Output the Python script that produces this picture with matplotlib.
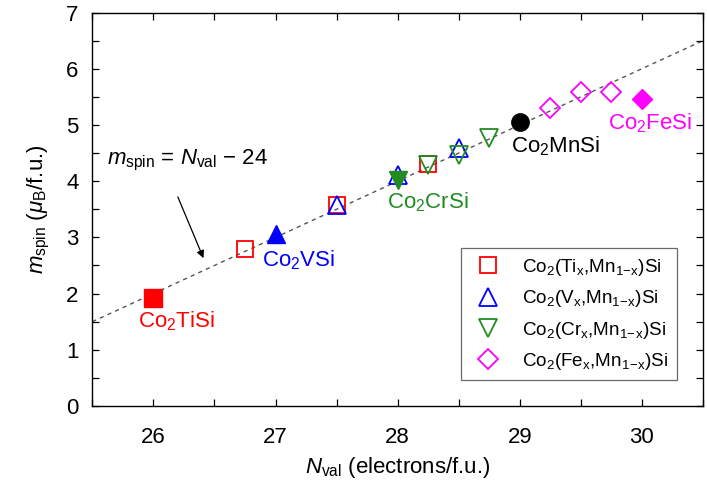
import numpy as np
import matplotlib
matplotlib.use("Agg")
from matplotlib import pyplot as plt

plt.rcParams['font.family'] = ['Liberation Sans', 'DejaVu Sans']
plt.rcParams['mathtext.fontset'] = 'custom'
plt.rcParams['mathtext.rm'] = 'Liberation Sans'
plt.rcParams['mathtext.it'] = 'Liberation Sans:italic'
plt.rcParams['mathtext.default'] = 'regular'

# parent compounds (filled markers)
parent_names = ['Co$_2$TiSi', 'Co$_2$VSi', 'Co$_2$CrSi', 'Co$_2$MnSi', 'Co$_2$FeSi']
parent_nval = [26.0, 27.0, 28.0, 29.0, 30.0]
parent_m = [1.92, 3.06, 4.02, 5.06, 5.46]
parent_colors = ['#ff0000', '#0000ff', '#228b22', '#000000', '#ff00ff']
parent_markers = ['s', '^', 'v', 'o', 'D']
label_x = [26.19, 27.19, 28.25, 29.29, 30.07]
label_y = [1.5, 2.6, 3.63, 4.62, 5.03]

# substituted series (open markers)
ti_nval = [26.75, 27.5, 28.25]
ti_m = [2.79, 3.58, 4.3]
v_nval = [27.5, 28.0, 28.5]
v_m = [3.58, 4.11, 4.59]
cr_nval = [28.25, 28.5, 28.75]
cr_m = [4.28, 4.47, 4.76]
fe_nval = [29.25, 29.5, 29.75]
fe_m = [5.31, 5.59, 5.59]

series = [
    (ti_nval, ti_m, 's', '#ff0000', 12, r'Co$_2$(Ti$_x$,Mn$_{1\!-\!x}$)Si'),
    (v_nval, v_m, '^', '#0000ff', 13, r'Co$_2$(V$_x$,Mn$_{1\!-\!x}$)Si'),
    (cr_nval, cr_m, 'v', '#228b22', 13, r'Co$_2$(Cr$_x$,Mn$_{1\!-\!x}$)Si'),
    (fe_nval, fe_m, 'D', '#ff00ff', 10, r'Co$_2$(Fe$_x$,Mn$_{1\!-\!x}$)Si'),
]

fig = plt.figure(figsize=(7.07, 4.83), dpi=100)
ax = fig.add_axes([0.1306, 0.1594, 0.8637, 0.8147])

# Slater-Pauling line
n_line = np.array([25.5, 30.5])
ax.plot(n_line, n_line - 24, ls=(0, (3, 3)), color='#555555', lw=1.0, zorder=1)

for x, y, mk, col, ms, lab in series:
    ax.plot(x, y, ls='none', marker=mk, ms=ms, mfc='none', mec=col, mew=1.3,
            label=lab, zorder=3)

for n, m, col, mk in zip(parent_nval, parent_m, parent_colors, parent_markers):
    ms = 10 if mk == 'D' else 12.5
    ax.plot(n, m, ls='none', marker=mk, ms=ms, color=col, zorder=4)

for name, tx, ty, col in zip(parent_names, label_x, label_y, parent_colors):
    ax.text(tx, ty, name, color=col, fontsize=16, ha='center', va='center')

ax.text(25.62, 4.36, r'$\it{m}_{\rm spin}$ = $\it{N}_{\rm val}$ $-$ 24',
        fontsize=16, va='center', ha='left')
ax.annotate('', xy=(26.41, 2.63), xytext=(26.2, 3.72),
            arrowprops=dict(arrowstyle='-|>', color='black', lw=0.9,
                            shrinkA=0, shrinkB=0, mutation_scale=11))

ax.set_xlim(25.5, 30.5)
ax.set_ylim(0, 7)
ax.set_xticks([26, 27, 28, 29, 30])
ax.set_xticks(np.arange(25.5, 30.6, 0.5), minor=True)
ax.set_yticks(range(0, 8))
ax.set_yticks(np.arange(0, 7.1, 0.5), minor=True)
ax.tick_params(which='both', direction='in', top=True, right=True, length=5,
               width=0.9, labelsize=16)
ax.tick_params(axis='x', pad=15)
ax.tick_params(axis='y', pad=10)
for sp in ax.spines.values():
    sp.set_linewidth(1.0)

ax.set_xlabel(r'$\it{N}_{\rm val}$ (electrons/f.u.)', fontsize=16, labelpad=5)
ax.set_ylabel(r'$\it{m}_{\rm spin}$ ($\it{\mu}_{\rm B}$/f.u.)', fontsize=16, labelpad=10)

leg = ax.legend(loc='lower right', bbox_to_anchor=(0.957, 0.065), fontsize=13.6,
                frameon=True, fancybox=False, edgecolor='#444444',
                handletextpad=0.8, borderpad=0.45, labelspacing=0.55,
                handlelength=2.0, borderaxespad=0)
leg.get_frame().set_linewidth(0.9)

fig.savefig('out.png', dpi=100)
